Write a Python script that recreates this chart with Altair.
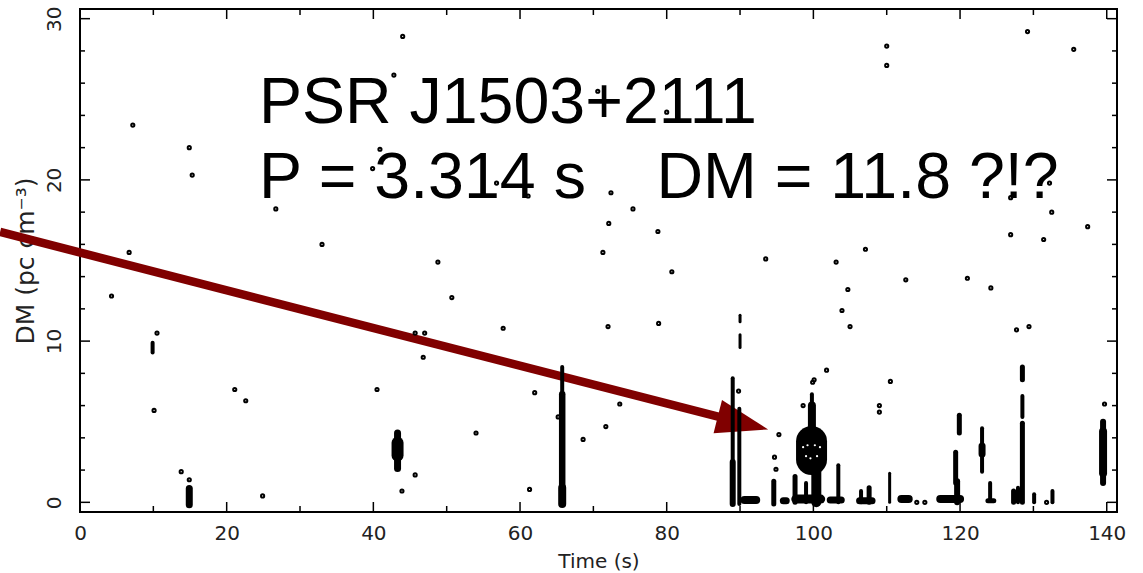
import altair as alt
import pandas as pd

# ---------------- data ----------------
# isolated single-pulse candidates (Time s, DM)
pt_x = [4.3, 7.2, 6.7, 14.9, 15.3, 10.5, 10.1, 21.1, 22.6, 24.9, 13.8, 14.9, 26.7, 33.0,
        44.0, 42.8, 48.8, 50.7, 45.7, 47.0, 46.8, 40.5, 45.7, 43.9, 54.0, 57.7, 61.3, 62.0,
        65.2, 68.6, 71.7, 73.6, 72.0, 71.3, 72.1, 75.4, 72.4, 78.8, 80.7, 78.9, 89.8, 93.5,
        103.1, 104.7, 103.9, 105.0, 107.1, 112.6, 121.0, 124.2, 126.9, 131.4, 132.5, 137.4,
        127.7, 129.4, 126.9, 132.2, 129.2, 135.5, 110.0, 110.0, 70.6, 80.0, 40.9, 39.9,
        56.8, 61.1, 95.3, 94.7, 94.9, 98.6, 99.9, 100.1, 101.8, 109.0, 109.0, 110.5,
        114.1, 115.2, 131.8, 139.7]
pt_y = [12.8, 23.4, 15.5, 22.0, 20.3, 10.5, 5.7, 7.0, 6.3, 0.4, 1.9, 1.4, 18.2, 16.0,
        28.9, 26.5, 14.9, 12.7, 10.5, 10.5, 9.0, 7.0, 1.7, 0.7, 4.3, 10.8, 0.8, 6.8,
        5.3, 3.9, 4.7, 6.1, 10.9, 15.5, 17.3, 18.2, 19.2, 16.8, 14.3, 11.1, 6.9, 15.1,
        14.9, 13.2, 11.9, 10.9, 15.7, 13.8, 13.9, 13.3, 16.6, 16.3, 18.0, 17.1,
        10.7, 10.9, 18.9, 19.8, 29.2, 28.1, 28.3, 27.1, 25.5, 24.2, 21.9, 20.7,
        19.8, 19.0, 4.2, 2.8, 2.05, 6.0, 7.45, 7.6, 8.2, 6.0, 5.6, 7.5,
        0.0, 0.0, 0.0, 6.1]

# overlapping candidates drawn as streaks (x..x2, y..y2, thickness)
seg_x  = [14.9, 9.9, 43.3, 43.3, 65.75, 65.75, 65.75, 89.0, 89.0, 89.9, 90.0, 90.0, 90.6,
          94.6, 95.9, 99.8, 99.8, 99.75, 97.5, 99.0, 100.4, 97.6, 103.4, 102.3, 106.5,
          107.6, 106.3, 110.4, 112.0, 117.3, 119.4, 119.6, 119.9, 123.0, 123.0, 124.1,
          123.8, 127.3, 127.9, 128.5, 128.5, 128.5, 130.1, 132.6, 139.5, 139.5]
seg_x2 = [14.9, 9.9, 43.3, 43.3, 65.75, 65.75, 65.75, 89.0, 89.0, 89.9, 90.0, 90.0, 92.2,
          94.6, 96.3, 99.8, 99.8, 99.75, 97.5, 99.0, 100.4, 101.0, 103.4, 103.8, 106.5,
          107.6, 108.0, 110.4, 113.0, 120.0, 119.4, 119.6, 119.9, 123.0, 123.0, 124.1,
          124.6, 127.3, 127.9, 128.5, 128.5, 128.5, 130.1, 132.6, 139.5, 139.5]
seg_y  = [-0.15, 9.3, 2.1, 2.9, 6.6, 0.7, -0.1, 2.5, -0.1, -0.1, 9.6, 11.2, 0.15,
          -0.1, 0.1, 5.9, 4.5, 2.65, 0.0, 0.0, 0.0, 0.2, 0.0, 0.15, 0.0,
          0.0, 0.1, 0.0, 0.2, 0.2, 1.2, 0.0, 4.3, 1.9, 3.0, 0.1,
          0.1, 0.0, 0.0, 7.6, 5.3, 0.0, 0.0, 0.0, 1.2, 1.8]
seg_y2 = [0.85, 9.9, 4.3, 3.7, 8.4, 6.7, 0.9, 7.7, 2.5, 5.8, 10.4, 11.6, 0.15,
          1.3, 0.1, 6.7, 6.0, 3.77, 1.6, 1.2, 2.4, 0.2, 2.3, 0.15, 0.7,
          0.9, 0.1, 1.8, 0.2, 0.2, 3.1, 1.3, 5.4, 4.6, 3.5, 1.2,
          0.1, 0.7, 0.9, 8.4, 6.6, 4.9, 0.5, 0.7, 5.0, 4.4]
seg_w  = [7, 4, 7, 12, 4, 6.5, 8, 4, 6, 4, 3, 3, 8,
          5, 7, 4, 8, 31, 5, 4, 10, 9, 4, 7, 4,
          5, 7, 3, 8, 8, 5, 6, 5, 4, 7, 4,
          5, 5, 4, 5, 4, 5, 4, 4, 6, 8]

# white gaps inside the bright pulse blob
hole_x = [98.6, 99.2, 100.2, 100.9, 99.0, 99.6, 100.5]
hole_y = [3.42, 3.54, 3.54, 3.42, 2.86, 2.73, 2.86]

# annotation
ann_text = ["PSR J1503+2111", "P = 3.314 s", "DM = 11.8 ?!?"]
ann_x = [24.4, 24.4, 78.6]
ann_y = [23.5, 18.9, 18.9]

arrow_x, arrow_y, arrow_x2, arrow_y2 = [-10.9], [16.77], [88.2], [5.17]
head_x, head_y = [90.4], [4.92]

x_label_values = [0, 20, 40, 60, 80, 100, 120, 140]
y_label_values = [0, 10, 20, 30]
x_tick_values = list(range(0, 141, 10))
y_tick_values = list(range(0, 31, 2))

# ---------------- chart ----------------
W, H = 1037, 503
xs = alt.Scale(domain=[0, 141.4], nice=False, zero=False)
ys = alt.Scale(domain=[-0.6, 30.6], nice=False, zero=False)
RED = "#800000"

pts = pd.DataFrame({"x": pt_x, "y": pt_y})
segs = pd.DataFrame({"x": seg_x, "x2": seg_x2, "y": seg_y, "y2": seg_y2, "w": seg_w})
holes = pd.DataFrame({"x": hole_x, "y": hole_y})
ann = pd.DataFrame({"t": ann_text, "x": ann_x, "y": ann_y})
arrow = pd.DataFrame({"x": arrow_x, "y": arrow_y, "x2": arrow_x2, "y2": arrow_y2})
head = pd.DataFrame({"x": head_x, "y": head_y})
xt = pd.DataFrame({"v": x_tick_values, "major": [v % 20 == 0 for v in x_tick_values]})
yt = pd.DataFrame({"v": y_tick_values, "major": [v % 10 == 0 for v in y_tick_values]})

x_axis = alt.Axis(values=x_label_values, grid=False, ticks=False, domain=False,
                  labelFont="DejaVu Sans", labelFontSize=20, labelColor="#222",
                  labelPadding=11, labelFlush=False, labelOverlap=False,
                  title="Time (s)", titleFont="DejaVu Sans", titleFontSize=20,
                  titleFontWeight="normal", titleColor="#222", titlePadding=8)
y_axis = alt.Axis(values=y_label_values, grid=False, ticks=False, domain=False,
                  labelFont="DejaVu Sans", labelFontSize=20, labelColor="#222",
                  labelAngle=270, labelAlign="center", labelBaseline="bottom",
                  labelPadding=16, labelFlush=False, labelOverlap=False,
                  title="DM (pc cm⁻³)", titleFont="DejaVu Sans", titleFontSize=25,
                  titleFontWeight="normal", titleColor="#222", titleAngle=270,
                  titlePadding=6)


def X(f="x"):
    return alt.X(f"{f}:Q", scale=xs, axis=x_axis)


def Y(f="y"):
    return alt.Y(f"{f}:Q", scale=ys, axis=y_axis)


arrow_l = alt.Chart(arrow).mark_rule(color=RED, strokeWidth=8.5, clip=False).encode(
    x=X(), y=Y(), x2="x2:Q", y2="y2:Q")
head_l = alt.Chart(head).mark_point(shape="M -1 -0.66 L 1 0 L -1 0.66 Z", filled=True,
                                    color=RED, opacity=1, size=2704, angle=14.25,
                                    strokeWidth=0).encode(x=X(), y=Y())
text_l = alt.Chart(ann).mark_text(font="Liberation Sans", fontSize=64.5, align="left",
                                  baseline="alphabetic", color="black").encode(
    x=X(), y=Y(), text="t:N")
seg_l = alt.Chart(segs).mark_rule(color="black", strokeCap="round").encode(
    x=X(), y=Y(), x2="x2:Q", y2="y2:Q", strokeWidth=alt.StrokeWidth("w:Q", scale=None))
hole_l = alt.Chart(holes).mark_point(shape="circle", filled=True, color="white",
                                     opacity=1, size=5).encode(x=X(), y=Y())
pt_l = alt.Chart(pts).mark_point(shape="circle", filled=False, color="black",
                                 opacity=1, size=10, strokeWidth=2).encode(x=X(), y=Y())


def xticks(major, top):
    n = 10 if major else 6
    y0 = 0 if top else H
    y1 = n if top else H - n
    return alt.Chart(xt).transform_filter(
        alt.datum.major if major else ~alt.datum.major
    ).mark_rule(color="black", strokeWidth=1.5).encode(
        x=X("v"), y=alt.value(y0), y2=alt.value(y1))


def yticks(major, right):
    n = 10 if major else 5
    x0 = W if right else 0
    x1 = W - n if right else n
    return alt.Chart(yt).transform_filter(
        alt.datum.major if major else ~alt.datum.major
    ).mark_rule(color="black", strokeWidth=1.5).encode(
        y=Y("v"), x=alt.value(x0), x2=alt.value(x1))


chart = alt.layer(
    arrow_l, text_l, head_l, seg_l, hole_l, pt_l,
    xticks(True, False), xticks(False, False), xticks(True, True), xticks(False, True),
    yticks(True, False), yticks(False, False), yticks(True, True), yticks(False, True),
).properties(
    width=W, height=H, autosize="none",
    padding={"left": 80, "top": 9, "right": 26, "bottom": 61},
    background="white",
).configure_view(stroke="black", strokeWidth=2)

chart.save("out.html", embed_options={"renderer": "svg", "actions": False})
